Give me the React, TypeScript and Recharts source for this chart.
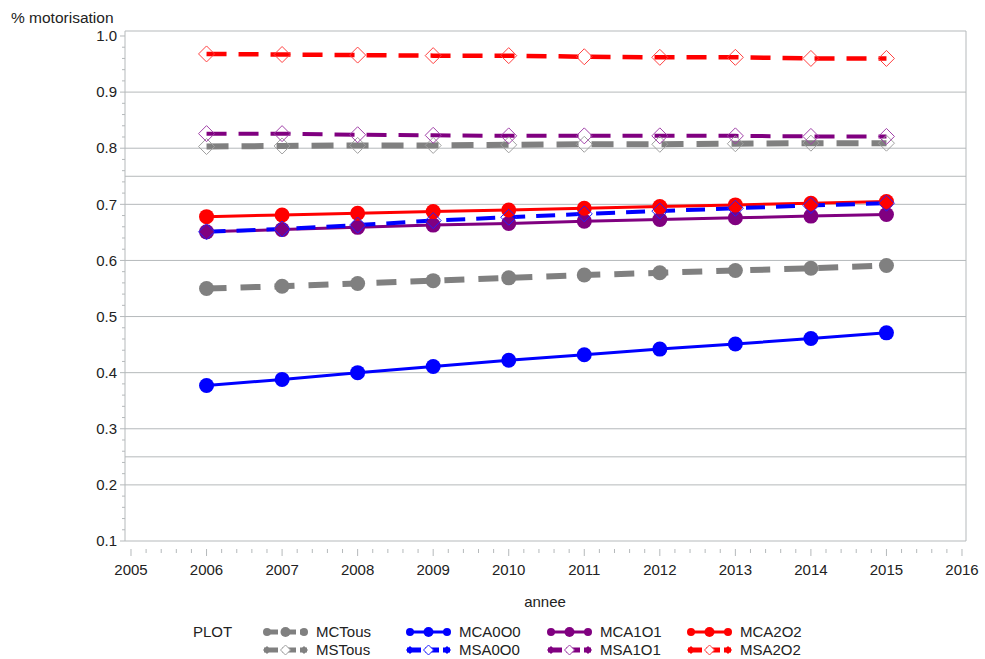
import React from "react"
import { LineChart, Line, XAxis, YAxis, ReferenceLine, ReferenceArea } from "recharts"

// années et taux de motorisation
const annees = [2006, 2007, 2008, 2009, 2010, 2011, 2012, 2013, 2014, 2015]
const MCTous = [0.55, 0.554, 0.559, 0.564, 0.569, 0.574, 0.578, 0.582, 0.586, 0.591]
const MCA0O0 = [0.377, 0.388, 0.4, 0.411, 0.422, 0.432, 0.442, 0.451, 0.461, 0.471]
const MCA1O1 = [0.651, 0.655, 0.659, 0.663, 0.666, 0.67, 0.673, 0.676, 0.679, 0.682]
const MCA2O2 = [0.678, 0.681, 0.684, 0.687, 0.69, 0.693, 0.696, 0.699, 0.702, 0.705]
const MSTous = [0.803, 0.804, 0.805, 0.805, 0.806, 0.807, 0.807, 0.808, 0.809, 0.809]
const MSA0O0 = [0.651, 0.656, 0.663, 0.671, 0.677, 0.683, 0.688, 0.693, 0.698, 0.702]
const MSA1O1 = [0.826, 0.826, 0.824, 0.823, 0.822, 0.822, 0.822, 0.822, 0.821, 0.821]
const MSA2O2 = [0.968, 0.967, 0.966, 0.965, 0.965, 0.963, 0.962, 0.962, 0.96, 0.96]

const xMajorTicks = [2005, 2006, 2007, 2008, 2009, 2010, 2011, 2012, 2013, 2014, 2015, 2016]
const yMajorTicks = [0.1, 0.2, 0.3, 0.4, 0.5, 0.6, 0.7, 0.8, 0.9, 1.0]
const gridLines = [0.2, 0.25, 0.3, 0.4, 0.5, 0.6, 0.7, 0.75, 0.8, 0.9]

// 5 subdivisions entre deux graduations majeures
const withMinor = (majors: number[]) => {
  const out: number[] = []
  majors.forEach((m, i) => {
    out.push(m)
    if (i < majors.length - 1) {
      const step = (majors[i + 1] - m) / 5
      for (let k = 1; k < 5; k++) out.push(Math.round((m + k * step) * 1000) / 1000)
    }
  })
  return out
}
const xTicks = withMinor(xMajorTicks)
const yTicks = withMinor(yMajorTicks)

const X_DOMAIN = [2004.9206, 2016.053]
const Y_DOMAIN = [0.1, 1.0089]

const FONT = "'Liberation Sans', Arial, sans-serif"
const TEXT = "#222"
const GRID = "#b5b9bb"

const series = [
  { key: "MCTous", values: MCTous, color: "#808080", mark: "#808080", width: 6, dash: "20 14", marker: "circle" },
  { key: "MCA0O0", values: MCA0O0, color: "#0000ff", mark: "#0000ff", width: 3, dash: undefined, marker: "circle" },
  { key: "MCA1O1", values: MCA1O1, color: "#800080", mark: "#800080", width: 3, dash: undefined, marker: "circle" },
  { key: "MCA2O2", values: MCA2O2, color: "#ff0000", mark: "#ff0000", width: 3, dash: undefined, marker: "circle" },
  { key: "MSTous", values: MSTous, color: "#808080", mark: "#a0a0a0", width: 6, dash: "22 13", marker: "diamond" },
  { key: "MSA0O0", values: MSA0O0, color: "#0000ff", mark: "#2020ff", width: 4, dash: "19 11", marker: "diamond" },
  { key: "MSA1O1", values: MSA1O1, color: "#800080", mark: "#a040a8", width: 4, dash: "20 12", marker: "diamond" },
  { key: "MSA2O2", values: MSA2O2, color: "#ff0000", mark: "#ff4040", width: 4.5, dash: "20 12", marker: "diamond" },
]

const data = annees.map((a, i) => {
  const row: Record<string, number> = { annee: a }
  series.forEach((s) => (row[s.key] = s.values[i]))
  return row
})

const legendRows = [
  ["MCTous", "MCA0O0", "MCA1O1", "MCA2O2"],
  ["MSTous", "MSA0O0", "MSA1O1", "MSA2O2"],
]

const diamondPath = (cx: number, cy: number, d: number) =>
  `M${cx},${cy - d}L${cx + d},${cy}L${cx},${cy + d}L${cx - d},${cy}Z`

const renderDot = (s: (typeof series)[number]) => (props: any) => {
  const { cx, cy, index } = props
  const k = `${s.key}-${index}`
  if (cx == null || cy == null) return <g key={k} />
  if (s.marker === "circle") return <circle key={k} cx={cx} cy={cy} r={7.5} fill={s.color} />
  return <path key={k} d={diamondPath(cx, cy, 8)} fill="none" stroke={s.mark} strokeWidth={1} />
}

const isMajor = (v: number, unit: number) => Math.abs(v / unit - Math.round(v / unit)) < 1e-6

const XTick = (props: any) => {
  const { x, y, payload } = props
  const v = payload.value
  const major = isMajor(v, 1)
  return (
    <g>
      <line x1={x} x2={x} y1={y + 8} y2={y + (major ? 15 : 12)} stroke={GRID} />
      {major && (
        <text x={x} y={y + 34} textAnchor="middle" fontSize={15} fontFamily={FONT} fill={TEXT}>
          {v}
        </text>
      )}
    </g>
  )
}

const YTick = (props: any) => {
  const { x, y, payload } = props
  const v = payload.value
  const major = isMajor(v, 0.1)
  return (
    <g>
      <line x1={x - (major ? 5 : 3)} x2={x} y1={y} y2={y} stroke={GRID} />
      {major && (
        <text x={x - 8} y={y} dy="0.35em" textAnchor="end" fontSize={15} fontFamily={FONT} fill={TEXT}>
          {v.toFixed(1)}
        </text>
      )}
    </g>
  )
}

function LegendSample({ s, x, y }: { s: (typeof series)[number]; x: number; y: number }) {
  const x0 = x - 52
  const x1 = x - 9
  const cx = (x0 + x1) / 2
  return (
    <g>
      <line x1={x0} x2={x1} y1={y} y2={y} stroke={s.color} strokeWidth={s.dash ? 5 : 3} strokeDasharray={s.dash ? "14 4" : undefined} />
      {s.marker === "circle" ? (
        <>
          <circle cx={x0 + 3} cy={y} r={4} fill={s.color} />
          <circle cx={cx} cy={y} r={5} fill={s.color} />
          <circle cx={x1 - 3} cy={y} r={4} fill={s.color} />
        </>
      ) : (
        <>
          <path d={diamondPath(x0 + 3, y, 4)} fill={s.color} />
          <path d={diamondPath(cx, y, 5)} fill="#fff" stroke={s.mark} strokeWidth={1} />
          <path d={diamondPath(x1 - 3, y, 4)} fill={s.color} />
        </>
      )}
    </g>
  )
}

export default function App() {
  const colX = [316, 459, 600, 740]
  const rowY = [632, 650]
  return (
    <div style={{ position: "absolute", left: 0, top: 0, width: 985, height: 659, background: "#fff", fontFamily: FONT }}>
      <div style={{ position: "absolute", left: 11, top: 9, fontSize: 15.5, lineHeight: "17px", color: TEXT }}>
        % motorisation
      </div>
      <LineChart width={985} height={659} data={data} margin={{ top: 31, right: 19, bottom: 88, left: 75 }}>
        <XAxis
          type="number"
          dataKey="annee"
          domain={X_DOMAIN}
          ticks={xTicks}
          interval={0}
          allowDataOverflow
          axisLine={false}
          tickLine={false}
          tickSize={0}
          tickMargin={0}
          height={30}
          tick={<XTick />}
        />
        <YAxis
          type="number"
          domain={Y_DOMAIN}
          ticks={yTicks}
          interval={0}
          allowDataOverflow
          axisLine={false}
          tickLine={false}
          tickSize={0}
          tickMargin={0}
          width={50}
          tick={<YTick />}
        />
        <ReferenceArea x1={X_DOMAIN[0]} x2={X_DOMAIN[1]} y1={Y_DOMAIN[0]} y2={Y_DOMAIN[1]} fill="none" stroke={GRID} strokeWidth={1} />
        {gridLines.map((g) => (
          <ReferenceLine key={g} y={g} stroke={GRID} strokeWidth={1} />
        ))}
        {series.map((s) => (
          <Line
            key={s.key}
            dataKey={s.key}
            stroke={s.color}
            strokeWidth={s.width}
            strokeDasharray={s.dash}
            dot={renderDot(s)}
            activeDot={false}
            isAnimationActive={false}
            type="linear"
          />
        ))}
      </LineChart>
      <div style={{ position: "absolute", left: 545, top: 593, transform: "translateX(-50%)", fontSize: 15, lineHeight: "17px", color: TEXT }}>
        annee
      </div>
      <svg width={985} height={659} style={{ position: "absolute", left: 0, top: 0, pointerEvents: "none" }}>
        <text x={193} y={rowY[0]} dy="0.35em" fontSize={15} fontFamily={FONT} fill={TEXT}>
          PLOT
        </text>
        {legendRows.map((row, r) =>
          row.map((key, c) => {
            const s = series.find((q) => q.key === key)!
            return (
              <g key={key}>
                <LegendSample s={s} x={colX[c]} y={rowY[r]} />
                <text x={colX[c]} y={rowY[r]} dy="0.35em" fontSize={15} fontFamily={FONT} fill={TEXT}>
                  {key}
                </text>
              </g>
            )
          })
        )}
      </svg>
    </div>
  )
}
